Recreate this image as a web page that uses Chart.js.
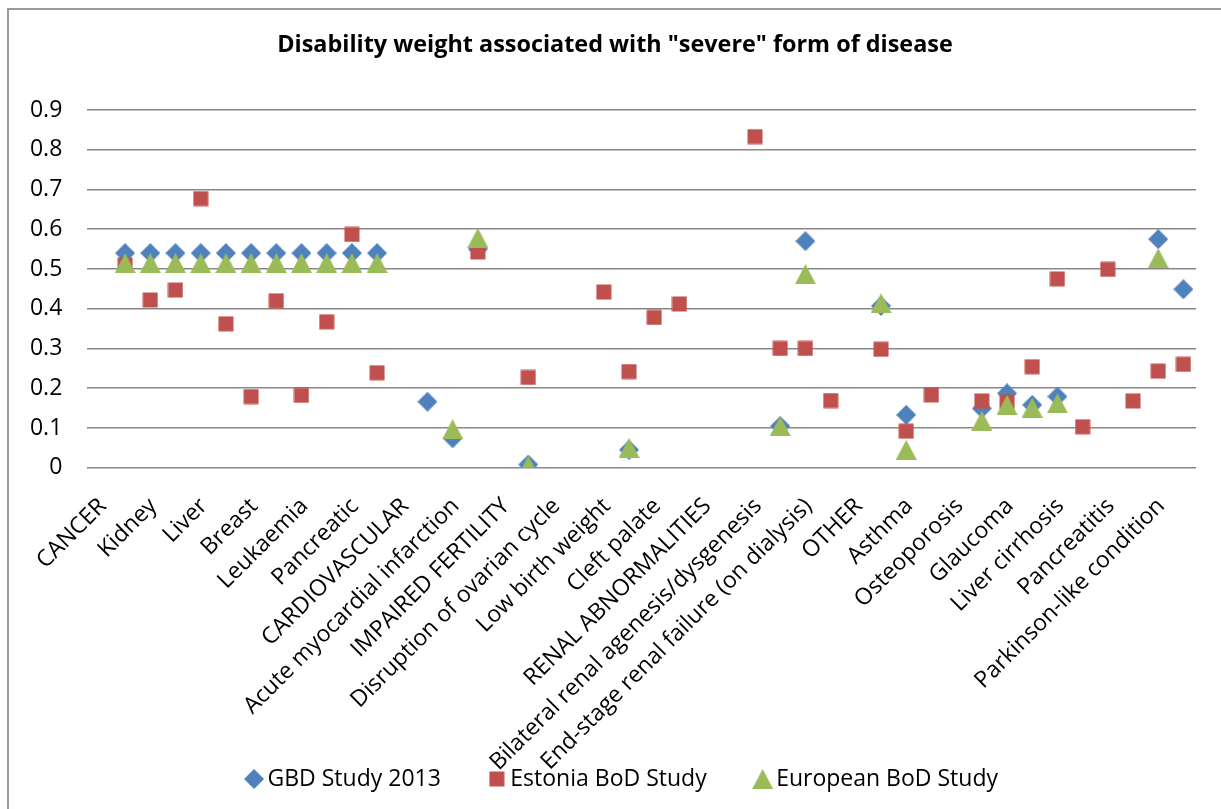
<!DOCTYPE html>
<html>
<head>
<meta charset="utf-8">
<script src="https://cdn.jsdelivr.net/npm/chart.js@4/dist/chart.umd.min.js"></script>
<style>
    html, body { margin: 0; padding: 0; background: #fff; overflow: hidden; }
    #wrap { position: relative; width: 1221px; height: 809px; }
    #frame { position: absolute; left: 7px; top: 8px; width: 1300px; height: 900px;
             border-left: 2px solid #9a9a9a; border-top: 2px solid #9a9a9a; pointer-events: none; }
</style>
</head>
<body>
<div id="wrap">
    <canvas id="chart" width="1221" height="809"></canvas>
    <div id="frame"></div>
</div>
<script>
    // categories (odd slots are sub-items whose names are hidden on the axis)
    var categories = [
        'CANCER', '', 'Kidney', '', 'Liver', '', 'Breast', '', 'Leukaemia', '', 'Pancreatic', '',
        'CARDIOVASCULAR', '', 'Acute myocardial infarction', '', 'IMPAIRED FERTILITY', '',
        'Disruption of ovarian cycle', '', 'Low birth weight', '', 'Cleft palate', '',
        'RENAL ABNORMALITIES', '', 'Bilateral renal agenesis/dysgenesis', '',
        'End-stage renal failure (on dialysis)', '', 'OTHER', '', 'Asthma', '',
        'Osteoporosis', '', 'Glaucoma', '', 'Liver cirrhosis', '', 'Pancreatitis', '',
        'Parkinson-like condition', ''
    ];

    var gbdValues = [
        null, 0.54, 0.54, 0.54, 0.54, 0.54, 0.54, 0.54, 0.54, 0.54, 0.54, 0.54,
        null, 0.166, 0.074, 0.55, null, 0.008, null, null, null, 0.045, null, null,
        null, null, null, 0.105, 0.570, null, null, 0.407, 0.133, null, null, 0.149,
        0.187, 0.158, 0.179, null, null, null, 0.575, 0.449
    ];

    var estoniaValues = [
        null, 0.51, 0.422, 0.447, 0.677, 0.362, 0.179, 0.42, 0.182, 0.367, 0.587, 0.239,
        null, null, null, 0.543, null, 0.227, null, null, 0.442, 0.242, 0.378, 0.412,
        null, null, 0.833, 0.300, 0.300, 0.169, null, 0.298, 0.092, 0.183, null, 0.168,
        0.166, 0.254, 0.475, 0.103, 0.499, 0.168, 0.243, 0.26
    ];

    var europeanValues = [
        null, 0.515, 0.515, 0.515, 0.515, 0.515, 0.515, 0.515, 0.515, 0.515, 0.515, 0.515,
        null, null, 0.097, 0.578, null, 0.005, null, null, null, 0.05, null, null,
        null, null, null, 0.105, 0.487, null, null, 0.414, 0.045, null, null, 0.118,
        0.158, 0.151, 0.162, null, null, null, 0.527, null
    ];

    var yTicks = [0, 0.1, 0.2, 0.3, 0.4, 0.5, 0.6, 0.7, 0.8, 0.9];

    var FONT = "'Open Sans', 'DejaVu Sans', sans-serif";

    // Excel-like marker images, centred on their bounding box
    function makeMarker(kind, color) {
        var c = document.createElement('canvas');
        var ctx;
        if (kind === 'diamond') {
            c.width = 20; c.height = 20;
            ctx = c.getContext('2d');
            ctx.beginPath();
            ctx.moveTo(10, 0); ctx.lineTo(20, 10); ctx.lineTo(10, 20); ctx.lineTo(0, 10);
            ctx.closePath();
        } else if (kind === 'square') {
            c.width = 16; c.height = 16;
            ctx = c.getContext('2d');
            ctx.beginPath();
            ctx.rect(0.5, 0.5, 15, 15);
        } else {
            c.width = 21; c.height = 20;
            ctx = c.getContext('2d');
            ctx.beginPath();
            ctx.moveTo(10.5, 0); ctx.lineTo(21, 20); ctx.lineTo(0, 20);
            ctx.closePath();
        }
        ctx.fillStyle = color;
        ctx.fill();
        return c;
    }

    var blue = '#4F81BD', red = '#C0504D', green = '#9BBB59';

    // the rotated category labels run down past the legend's top edge, and the
    // y labels sit left of the y box, so widen both label clips to the canvas;
    // also nudge the legend row a little to the right like the original
    var layoutTweaks = {
        id: 'layoutTweaks',
        afterLayout: function (chart) {
            chart.scales.x.bottom = chart.height;
            chart.scales.y.left = 0;
            chart.legend.left += 10;
            chart.legend.right += 10;
        }
    };

    var config = {
        type: 'line',
        data: {
            labels: categories,
            datasets: [{
                label: 'GBD Study 2013',
                data: gbdValues,
                showLine: false,
                pointStyle: makeMarker('diamond', blue),
                backgroundColor: blue,
                borderColor: blue,
                order: 3
            }, {
                label: 'Estonia BoD Study',
                data: estoniaValues,
                showLine: false,
                pointStyle: makeMarker('square', red),
                backgroundColor: red,
                borderColor: red,
                order: 2
            }, {
                label: 'European BoD Study',
                data: europeanValues,
                showLine: false,
                pointStyle: makeMarker('triangle', green),
                backgroundColor: green,
                borderColor: green,
                order: 1
            }]
        },
        options: {
            responsive: false,
            animation: false,
            layout: { padding: { left: 34, right: 25, top: 0, bottom: 8.5 } },
            plugins: {
                title: {
                    display: true,
                    text: 'Disability weight associated with "severe" form of disease',
                    color: '#000',
                    font: { family: FONT, size: 23.4, weight: 'bold' },
                    padding: { top: 31, bottom: 50.9 }
                },
                legend: {
                    position: 'bottom',
                    labels: {
                        usePointStyle: true,
                        boxWidth: 4,
                        boxHeight: 4,
                        padding: 54,
                        color: '#000',
                        font: { family: FONT, size: 23 },
                        sort: function (a, b) { return a.datasetIndex - b.datasetIndex; }
                    }
                },
                tooltip: { enabled: false }
            },
            scales: {
                x: {
                    offset: true,
                    grid: { display: false },
                    border: { display: false },
                    ticks: {
                        autoSkip: false,
                        minRotation: 45,
                        maxRotation: 45,
                        padding: 17,
                        labelOffset: 3,
                        color: '#000',
                        font: { family: FONT, size: 23 }
                    },
                    afterFit: function (scale) { scale.height = 245.8; }
                },
                y: {
                    min: 0,
                    max: 0.9,
                    border: { display: false },
                    grid: { color: '#888', lineWidth: 1.5, drawTicks: false },
                    afterBuildTicks: function (scale) {
                        scale.ticks = yTicks.map(function (v) { return { value: v }; });
                    },
                    ticks: {
                        padding: 25,
                        color: '#000',
                        font: { family: FONT, size: 23 },
                        callback: function (v) { return String(Math.round(v * 10) / 10); }
                    },
                    afterFit: function (scale) { scale.width = 53.3; }
                }
            }
        },
        plugins: [layoutTweaks]
    };

    new Chart(document.getElementById('chart').getContext('2d'), config);
</script>
</body>
</html>
